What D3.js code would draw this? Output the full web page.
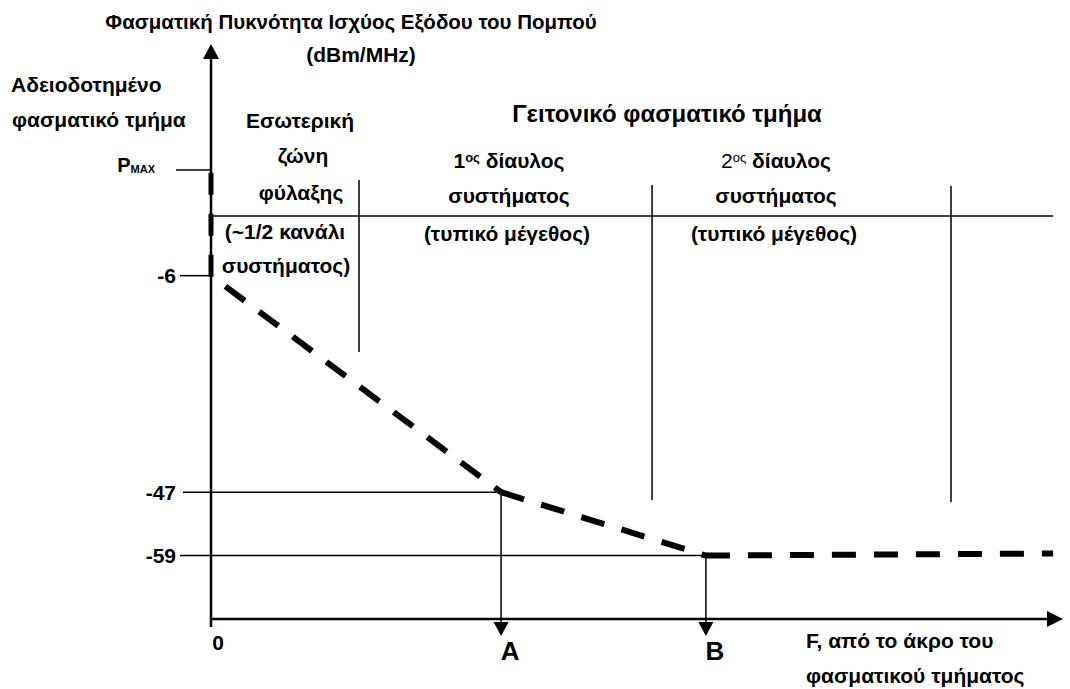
<!DOCTYPE html>
<html><head><meta charset="utf-8">
<script src="https://cdn.jsdelivr.net/npm/d3@7"></script>
<style>
body{margin:0;background:#fff}
text{font-family:"Liberation Sans",Arial,sans-serif;font-weight:bold;fill:#000}
</style>
</head><body>
<svg id="c" width="1070" height="689"></svg>
<script>
// ---- data (schematic spectrum emission mask) ----
const levelLabels = ["P", "-6", "-47", "-59"];        // P = PMAX
const levelValues = [14, -6, -47, -59];               // dBm/MHz (PMAX shown schematically)
const levelLineEnds = [0, 0, 0.98, 1.672];            // frequency where reference line ends
const maskFreq = [0, 0.98, 1.672, 2.845];             // channel widths from block edge
const maskPower = [-6, -47, -59, -58.6];
const pointLabels = ["A", "B"];
const pointFreq = [0.98, 1.672];
const boundaryFreq = [0.5, 1.49, 2.5];
const yTitle = "Φασματική Πυκνότητα Ισχύος Εξόδου του Πομπού";
const yUnit = "(dBm/MHz)";
const xTitle = ["F, από το άκρο του", "φασματικού τμήματος"];
const licensedLabel = ["Αδειοδοτημένο", "φασματικό τμήμα"];
const guardLabel = ["Εσωτερική", "ζώνη", "φύλαξης", "(~1/2 κανάλι", "συστήματος)"];
const adjacentLabel = "Γειτονικό φασματικό τμήμα";
const channelOrdinals = ["1", "2"];
const channelLabel = ["δίαυλος", "συστήματος", "(τυπικό μέγεθος)"];

// ---- scales ----
const svg = d3.select("#c");
const x = d3.scaleLinear().domain([0, 2.5]).range([211, 951]);
const y = d3.scaleLinear().domain([-71, 14]).range([619, 170]);
const x0 = x(0), yBase = y(-71);
const FS = 21;

const thin = 1.5;
svg.append("line").attr("x1", x0).attr("x2", x(maskFreq[3])).attr("y1", 216).attr("y2", 216)
  .attr("stroke", "#000").attr("stroke-width", thin);
const bTop = [180, 185, 186], bBot = [352, 500, 502];
svg.selectAll(".bnd").data(boundaryFreq).join("line")
  .attr("x1", d => x(d)).attr("x2", d => x(d))
  .attr("y1", (d, i) => bTop[i]).attr("y2", (d, i) => bBot[i])
  .attr("stroke", "#000").attr("stroke-width", thin);

const tickStart = [176, 180, 183, 180];
levelValues.forEach((v, i) => {
  svg.append("line").attr("x1", tickStart[i]).attr("x2", x(levelLineEnds[i]))
    .attr("y1", y(v)).attr("y2", y(v)).attr("stroke", "#000").attr("stroke-width", thin);
});
levelValues.forEach((v, i) => {
  if (i === 0) {
    const t = svg.append("text").attr("x", 155).attr("y", y(v) + 2).attr("text-anchor", "end")
      .style("font-size", "20px");
    t.append("tspan").text(levelLabels[i]);
    t.append("tspan").text("MAX").style("font-size", "11px").attr("dy", 1);
  } else {
    svg.append("text").attr("x", 176).attr("y", y(v) + 7.5).attr("text-anchor", "end")
      .style("font-size", FS + "px").text(levelLabels[i]);
  }
});

pointFreq.forEach((f, i) => {
  const px = x(f), py = y(maskPower[i + 1]);
  svg.append("line").attr("x1", px).attr("x2", px).attr("y1", py).attr("y2", yBase + 4)
    .attr("stroke", "#000").attr("stroke-width", thin);
  svg.append("path").attr("d", `M${px - 7.5},${yBase + 3}L${px + 7.5},${yBase + 3}L${px},${yBase + 17}Z`)
    .attr("fill", "#000");
  svg.append("text").attr("x", px + 9).attr("y", yBase + 41).attr("text-anchor", "middle")
    .style("font-size", "26px").text(pointLabels[i]);
});

svg.append("line").attr("x1", x0).attr("x2", x0).attr("y1", yBase + 8).attr("y2", 58)
  .attr("stroke", "#000").attr("stroke-width", 2.5);
svg.append("path").attr("d", `M${x0 - 8},59L${x0 + 8},59L${x0},44Z`).attr("fill", "#000");
svg.append("line").attr("x1", x0).attr("x2", 1048).attr("y1", yBase).attr("y2", yBase)
  .attr("stroke", "#000").attr("stroke-width", 2.5);
svg.append("path").attr("d", `M1047,${yBase - 8}L1047,${yBase + 8}L1063,${yBase}Z`).attr("fill", "#000");

svg.append("path").attr("d", d3.line()([[x0, y(-6) + 1], [x0, y(14)]]))
  .attr("stroke", "#000").attr("stroke-width", 5).attr("fill", "none")
  .attr("stroke-dasharray", "22,19");

const line = d3.line().x(d => x(d[0])).y(d => y(d[1]));
const pts = maskFreq.map((f, i) => [f, maskPower[i]]);
for (let i = 0; i < pts.length - 1; i++) {
  svg.append("path").attr("d", line([pts[i], pts[i + 1]]))
    .attr("fill", "none").attr("stroke", "#000").attr("stroke-width", 6)
    .attr("stroke-dasharray", "24,18").attr("stroke-dashoffset", i === 0 ? 24 : 0);
}

const txt = (s, tx, ty, size, anchor) => svg.append("text").attr("x", tx).attr("y", ty)
  .attr("text-anchor", anchor || "middle").style("font-size", size + "px").text(s);
txt(yTitle, 351, 28.5, 20.5);
txt(yUnit, 361, 62, FS);
txt(licensedLabel[0], 11, 92, FS, "start");
txt(licensedLabel[1], 12, 127, FS, "start");
const gy = [128, 163, 200, 239, 273];
const gx = [300, 303, 301, 285, 286];
guardLabel.forEach((s, i) => txt(s, gx[i], gy[i], FS));
txt(adjacentLabel, 667, 122, 24);
const cx = [509, 776];
channelOrdinals.forEach((o, i) => {
  const t = svg.append("text").attr("x", cx[i]).attr("y", 168).attr("text-anchor", "middle")
    .style("font-size", FS + "px");
  t.append("tspan").text(o).style("font-weight", i === 0 ? "bold" : "normal");
  t.append("tspan").text("ος").style("font-size", "13px").attr("dy", -6)
    .style("font-weight", i === 0 ? "bold" : "normal");
  t.append("tspan").text(" " + channelLabel[0]).attr("dy", 6);
  txt(channelLabel[1], cx[i], 203, FS);
  txt(channelLabel[2], cx[i] - 2, 241, FS);
});
txt("0", 218, 650, FS);
txt(xTitle[0], 806, 648, FS, "start");
txt(xTitle[1], 806, 683, FS, "start");
</script>
</body></html>
